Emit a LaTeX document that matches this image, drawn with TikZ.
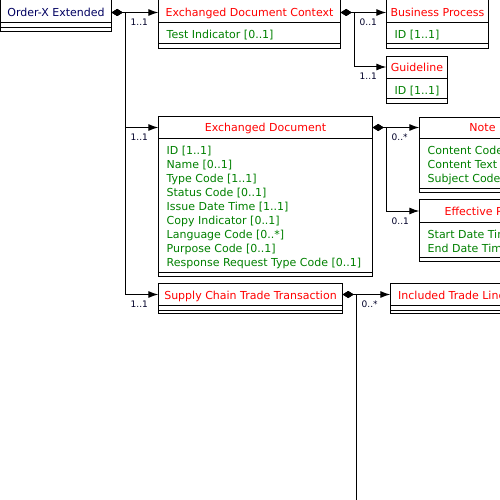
\documentclass[tikz,border=0pt]{standalone}
\usepackage{fontspec}
\setmainfont{DejaVu Sans}
\usetikzlibrary{arrows.meta}

\definecolor{umlred}{RGB}{255,0,0}
\definecolor{umlgreen}{RGB}{0,128,0}
\definecolor{umlnavy}{RGB}{0,0,96}
\definecolor{multink}{RGB}{0,0,40}

\tikzset{
  frame/.style={draw=black, line width=1pt},
  classtitle/.style={inner sep=0pt, text height=11pt, text depth=2pt,
    minimum height=20pt, font=\fontsize{11}{14}\selectfont, text=umlred},
  attr/.style={inner sep=0pt, anchor=base west,
    font=\fontsize{11}{14}\selectfont, text=umlgreen},
  mult/.style={inner sep=0pt, anchor=base west, xshift=4.5pt, yshift=-13pt,
    font=\fontsize{9}{10}\selectfont, text=multink},
  assoc/.style={line width=1pt,
    {Diamond[length=11pt,width=7pt]}-{Latex[length=10pt,width=7pt]}},
  assocopen/.style={line width=1pt, {Diamond[length=11pt,width=7pt]}-},
}

% class frame: x1, x2, top, header line, operations line, bottom
\newcommand\umlframe[6]{%
  \draw[frame] (#1,#3) rectangle (#2,#6);
  \draw[frame] (#1,#4) -- (#2,#4) (#1,#5) -- (#2,#5);}
% class name: node name, x1, x2, centre y, text
\newcommand\umltitle[5]{%
  \node[classtitle, minimum width={(#3-#2)*1pt}] (#1) at ({(#2+#3)/2},#4) {#5};}
% attribute list: prefix, x, first baseline, list
\newcommand\umlattrs[4]{%
  \foreach \a [count=\i] in {#4}
    \node[attr] (#1-\i) at (#2,{#3+14*(\i-1)}) {\a};}

\begin{document}
\begin{tikzpicture}[x=1pt, y=-1pt]
\useasboundingbox (-0.5,-0.5) rectangle (499.5,499.5);
\clip (-0.5,-0.5) rectangle (499.5,499.5);

% root
\umlframe{0}{111}{-1}{22}{27}{31}
\node[classtitle, text=umlnavy, minimum width=111pt] (orderx) at (55.5,12)
  {Order-X Extended};

% Exchanged Document Context
\umlframe{158}{340}{-1}{22}{43}{48}
\umltitle{edc}{158}{340}{12}{Exchanged Document Context}
\umlattrs{edc-a}{166}{38}{Test Indicator [0..1]}

% Business Process
\umlframe{386}{488}{-1}{22}{43}{48}
\umltitle{bp}{386}{488}{12}{Business Process}
\umlattrs{bp-a}{394}{38}{ID [1..1]}

% Guideline
\umlframe{386}{447}{56}{78}{98}{103}
\umltitle{gl}{386}{447}{66.5}{Guideline}
\umlattrs{gl-a}{394}{94}{ID [1..1]}

% Exchanged Document
\umlframe{158}{372}{116}{138}{272}{276}
\umltitle{ed}{158}{372}{127}{Exchanged Document}
\umlattrs{ed-a}{166}{154}{ID [1..1], Name [0..1], Type Code [1..1],
  Status Code [0..1], Issue Date Time [1..1], Copy Indicator [0..1],
  Language Code [0..*], Purpose Code [0..1], Response Request Type Code [0..1]}

% Note
\umlframe{419}{545}{117}{138}{188}{192}
\umltitle{note}{419}{545}{127}{Note}
\umlattrs{note-a}{427}{154}{Content Code [0..1], Content Text [1..1],
  Subject Code [0..1]}

% Effective Period
\umlframe{419}{555}{199}{222}{257}{261}
\umltitle{eff}{419}{555}{210.5}{Effective Period}
\umlattrs{eff-a}{427}{238}{Start Date Time [0..1], End Date Time [0..1]}

% Supply Chain Trade Transaction
\umlframe{158}{342}{283}{305}{310}{313}
\umltitle{sctt}{158}{342}{294}{Supply Chain Trade Transaction}

% Included Trade Line Item
\umlframe{390}{541}{283}{305}{310}{313}
\umltitle{itl}{390}{541}{294}{Included Trade Line Item}

% associations
\draw[assoc] (orderx.east) -- ++(14,0) |- node[mult, pos=0.5] (m-edc) {1..1} (edc.west);
\draw[assoc] (orderx.east) -- ++(14,0) |- node[mult, pos=0.5] (m-ed) {1..1} (ed.west);
\draw[assoc] (orderx.east) -- ++(14,0) |- node[mult, pos=0.5] (m-sctt) {1..1} (sctt.west);

\draw[assoc] (edc.east) -- ++(14,0) |- node[mult, pos=0.5] (m-bp) {0..1} (bp.west);
\draw[assoc] (edc.east) -- ++(14,0) |- node[mult, pos=0.5] (m-gl) {1..1} (gl.west);

\draw[assoc] (ed.east) -- ++(14,0) |- node[mult, pos=0.5] (m-note) {0..*} (note.west);
\draw[assoc] (ed.east) -- ++(14,0) |- node[mult, pos=0.5] (m-eff) {0..1} (eff.west);

\draw[assoc] (sctt.east) -- ++(14,0) |- node[mult, pos=0.5] (m-itl) {0..*} (itl.west);
\coordinate (below) at (356,520);
\draw[assocopen] (sctt.east) -| (below);
\end{tikzpicture}
\end{document}
